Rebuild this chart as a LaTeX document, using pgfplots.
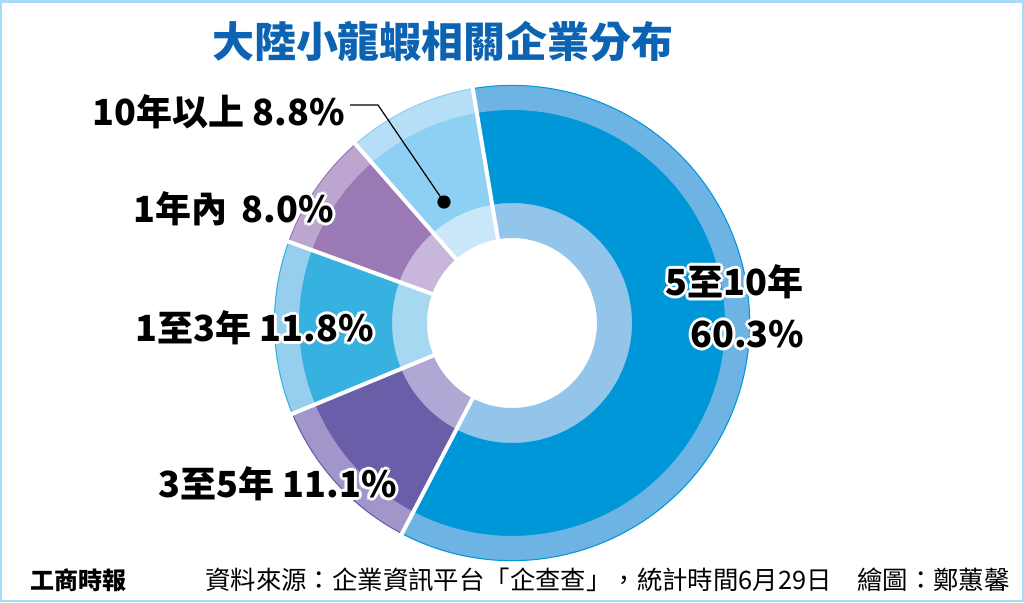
\documentclass[border=0pt]{standalone}
\usepackage{pgfplots}
\pgfplotsset{compat=1.18}
\usepackage{pgfplotstable}
\usepackage{fontspec}
\setmainfont{Noto Sans CJK TC}

% ring colours: inner band, main band, outer band for each age group
\definecolor{aIn}{HTML}{93C5EB}\definecolor{aMid}{HTML}{0097D9}\definecolor{aOut}{HTML}{6DB4E5}
\definecolor{bIn}{HTML}{B1A7D4}\definecolor{bMid}{HTML}{6B5EA8}\definecolor{bOut}{HTML}{A195C9}
\definecolor{cIn}{HTML}{A6D9F1}\definecolor{cMid}{HTML}{37B1E0}\definecolor{cOut}{HTML}{96CFEE}
\definecolor{dIn}{HTML}{C8B7DA}\definecolor{dMid}{HTML}{9A79B5}\definecolor{dOut}{HTML}{BCA6D0}
\definecolor{eIn}{HTML}{C9E7F9}\definecolor{eMid}{HTML}{8ED0F3}\definecolor{eOut}{HTML}{B6DEF6}
\definecolor{titleblue}{HTML}{0B63B1}
\definecolor{frameblue}{HTML}{A5DBF6}

% share of companies (%), clockwise from the top
\pgfplotstableread{
group  share inner mid  outer
5-10   60.3  aIn   aMid aOut
3-5    11.1  bIn   bMid bOut
1-3    11.8  cIn   cMid cOut
0-1    8.0   dIn   dMid dOut
10+    8.8   eIn   eMid eOut
}\slices

% one band of a slice: #1 start angle, #2 end angle, #3 inner radius, #4 outer radius, #5 colour
\newcommand\ringpart[5]{%
  \fill[#5] ([shift={(#1:#4)}]c) arc[start angle=#1,end angle=#2,radius=#4]
    -- ([shift={(#2:#3)}]c) arc[start angle=#2,end angle=#1,radius=#3] -- cycle;}
\newcommand\rimline[3]{%
  \draw[#3,line width=0.5pt] ([shift={(#1:118.8pt)}]c) arc[start angle=#1,end angle=#2,radius=118.8pt];}
\newcommand\gapline[1]{%
  \draw[white,line width=2pt] ([shift={(#1:41pt)}]c) -- ([shift={(#1:121pt)}]c);}

% text with a white outline
\tikzset{lbl/.style={inner sep=0pt,font=\fontsize{18}{20}\selectfont\bfseries}}
\newcommand\halolabel[3]{%
  \node[lbl,white,anchor=#2] at ([shift={(1.5pt,0pt)}]axis cs:#1) {#3};
  \node[lbl,white,anchor=#2] at ([shift={(-1.5pt,0pt)}]axis cs:#1) {#3};
  \node[lbl,white,anchor=#2] at ([shift={(0pt,1.5pt)}]axis cs:#1) {#3};
  \node[lbl,white,anchor=#2] at ([shift={(0pt,-1.5pt)}]axis cs:#1) {#3};
  \node[lbl,white,anchor=#2] at ([shift={(1.06pt,1.06pt)}]axis cs:#1) {#3};
  \node[lbl,white,anchor=#2] at ([shift={(-1.06pt,1.06pt)}]axis cs:#1) {#3};
  \node[lbl,white,anchor=#2] at ([shift={(1.06pt,-1.06pt)}]axis cs:#1) {#3};
  \node[lbl,white,anchor=#2] at ([shift={(-1.06pt,-1.06pt)}]axis cs:#1) {#3};
  \node[lbl,black,anchor=#2] at (axis cs:#1) {#3};}

\begin{document}
\begin{tikzpicture}
\begin{axis}[
  scale only axis, width=512pt, height=301pt,
  xmin=0, xmax=1024, ymin=0, ymax=602, y dir=reverse,
  hide axis, clip=false]

\coordinate (c) at (axis cs:512,323);

% slices, three bands each
\pgfmathsetmacro\angA{99.5}
\pgfplotsforeachungrouped \i in {0,...,4}{%
  \pgfplotstablegetelem{\i}{share}\of\slices \let\sh\pgfplotsretval
  \pgfplotstablegetelem{\i}{inner}\of\slices \let\cin\pgfplotsretval
  \pgfplotstablegetelem{\i}{mid}\of\slices \let\cmid\pgfplotsretval
  \pgfplotstablegetelem{\i}{outer}\of\slices \let\cout\pgfplotsretval
  \pgfmathsetmacro\angB{\angA-3.6*\sh}%
  \edef\doslice{%
    \noexpand\ringpart{\angB}{\angA}{42.5pt}{60.2pt}{\cin}%
    \noexpand\ringpart{\angB}{\angA}{60pt}{106.7pt}{\cmid}%
    \noexpand\ringpart{\angB}{\angA}{106.5pt}{119pt}{\cout}%
    \noexpand\rimline{\angB}{\angA}{\cmid}}%
  \doslice
  \let\angA\angB
}
% white gaps between slices
\pgfmathsetmacro\angA{99.5}
\pgfplotsforeachungrouped \i in {0,...,4}{%
  \pgfplotstablegetelem{\i}{share}\of\slices \let\sh\pgfplotsretval
  \edef\dogap{\noexpand\gapline{\angA}}\dogap
  \pgfmathsetmacro\angB{\angA-3.6*\sh}%
  \let\angA\angB
}

% leader for the smallest slice
\addplot[black, line width=0.6pt, mark=*, mark size=3pt, mark indices={3}]
  coordinates {(350,105) (378,105) (444,202)};

% labels
\halolabel{345,112}{east}{10年以上 8.8\%}
\halolabel{334,209}{east}{1年內\, 8.0\%}
\halolabel{374,328}{east}{1至3年 11.8\%}
\halolabel{397,484}{east}{3至5年 11.1\%}
\halolabel{665,282}{west}{5至10年}
\halolabel{690,334}{west}{60.3\%}

% title
\node[inner sep=0pt, text=titleblue, font=\fontsize{21}{24}\selectfont\bfseries]
  at (axis cs:443,42) {大陸小龍蝦相關企業分布};

% footer
\node[inner sep=0pt, anchor=west, font=\fontsize{12}{14}\selectfont\bfseries]
  at (axis cs:30,580) {工商時報};
\node[inner sep=0pt, anchor=west, font=\fontsize{12.7}{14}\selectfont]
  at (axis cs:205,580) {資料來源：企業資訊平台「企查查」，統計時間6月29日};
\node[inner sep=0pt, anchor=east, font=\fontsize{12.7}{14}\selectfont]
  at (axis cs:1010,580) {繪圖：鄭蕙馨};

% frame
\draw[frameblue, line width=1.25pt] (axis cs:1.25,1.25) rectangle (axis cs:1022.75,600.75);
\end{axis}
\end{tikzpicture}
\end{document}
